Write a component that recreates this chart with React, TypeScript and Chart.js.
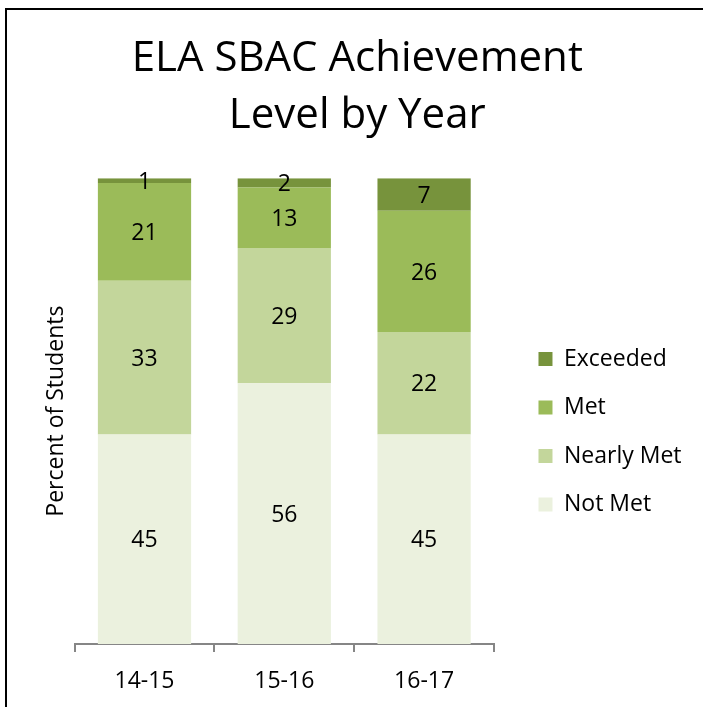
import React, { useEffect, useRef } from 'react';
import { Chart, registerables } from 'chart.js';

Chart.register(...registerables);

const categories = ['14-15', '15-16', '16-17'];
const notMet = [45, 56, 45];
const nearlyMet = [33, 29, 22];
const met = [21, 13, 26];
const exceeded = [1, 2, 7];
const seriesNames = ['Not Met', 'Nearly Met', 'Met', 'Exceeded'];
const seriesColors = ['#EBF1DE', '#C3D69B', '#9BBB59', '#77933C'];
const titleLines = ['ELA SBAC Achievement', 'Level by Year'];
const yTitle = 'Percent of Students';
const yMin = 0;
const yMax = 100;

const FONT = '"Open Sans", "Noto Sans", sans-serif';
const LABEL_SIZE = 23;

const segmentLabels = {
  id: 'segmentLabels',
  afterDatasetsDraw(chart: any) {
    const ctx = chart.ctx;
    ctx.save();
    ctx.font = LABEL_SIZE + 'px ' + FONT;
    ctx.fillStyle = '#000';
    ctx.textAlign = 'center';
    ctx.textBaseline = 'alphabetic';
    chart.data.datasets.forEach((ds: any, i: number) => {
      const meta = chart.getDatasetMeta(i);
      meta.data.forEach((bar: any, j: number) => {
        const p = bar.getProps(['x', 'y', 'base'], true);
        const mid = (p.y + p.base) / 2;
        ctx.fillText(String(ds.data[j]), p.x, mid + LABEL_SIZE * 0.357);
      });
    });
    ctx.restore();
  },
};

export default function App() {
  const ref = useRef<HTMLCanvasElement | null>(null);

  useEffect(() => {
    document.body.style.margin = '0';
    let chart: Chart | null = null;
    let cancelled = false;
    const build = () => {
      if (cancelled || !ref.current) return;
      const seriesData = [notMet, nearlyMet, met, exceeded];
      chart = new Chart(ref.current, {
        type: 'bar',
        data: {
          labels: categories,
          datasets: seriesNames.map((name, i) => ({
            label: name,
            data: seriesData[i],
            backgroundColor: seriesColors[i],
            borderWidth: 0,
            barPercentage: 0.667,
            categoryPercentage: 1,
          })),
        },
        options: {
          responsive: false,
          animation: false,
          devicePixelRatio: 1,
          layout: { padding: { left: 23, right: 11.5, top: 0, bottom: 0 } },
          plugins: {
            title: {
              display: true,
              text: titleLines,
              color: '#000',
              font: { family: FONT, size: 42, weight: 'normal', lineHeight: 1.36 },
              padding: { top: 30, bottom: 34 },
            },
            legend: {
              position: 'right',
              fullSize: false,
              align: 'center',
              reverse: true,
              maxWidth: 400,
              title: {
                display: true,
                text: '',
                padding: { top: 29.5, bottom: 0 },
                font: { size: 10, lineHeight: 1.2 },
              },
              labels: {
                boxWidth: 14,
                boxHeight: 14,
                padding: 25.5,
                color: '#000',
                font: { family: FONT, size: 23 },
              },
            },
            tooltip: { enabled: false },
          },
          scales: {
            x: {
              stacked: true,
              grid: {
                display: true,
                drawOnChartArea: false,
                drawTicks: true,
                tickLength: 8,
                color: '#868686',
                lineWidth: 2,
              },
              border: { display: true, color: '#868686', width: 2 },
              ticks: { color: '#000', font: { family: FONT, size: 23 }, padding: 16 },
              afterFit: (s: any) => {
                s.height = 63;
              },
            },
            y: {
              stacked: true,
              min: yMin,
              max: yMax,
              grid: { display: false, drawTicks: false },
              border: { display: false },
              ticks: { display: false },
              title: {
                display: true,
                text: yTitle,
                color: '#000',
                font: { family: FONT, size: 23 },
                padding: { top: 20, bottom: 4 },
              },
            },
            y2: {
              type: 'linear',
              position: 'right',
              display: true,
              grid: { display: false, drawTicks: false },
              border: { display: false },
              ticks: { display: false },
              afterFit: (s: any) => {
                s.width = 19;
              },
            },
          },
        } as any,
        plugins: [segmentLabels],
      });
    };
    const fontsApi = (document as any).fonts;
    if (fontsApi && fontsApi.load) {
      Promise.all([
        fontsApi.load('23px "Open Sans"'),
        fontsApi.load('42px "Open Sans"'),
      ]).then(build, build);
    } else {
      build();
    }
    return () => {
      cancelled = true;
      if (chart) chart.destroy();
    };
  }, []);

  return (
    <div style={{ position: 'relative', width: 703, height: 707, overflow: 'hidden', background: '#fff' }}>
      <div
        style={{
          position: 'absolute',
          left: 5,
          top: 8,
          width: 800,
          height: 800,
          borderLeft: '2px solid #000',
          borderTop: '2px solid #000',
          boxSizing: 'border-box',
        }}
      />
      <canvas
        ref={ref}
        width={703}
        height={707}
        style={{ position: 'absolute', left: 0, top: 0, width: 703, height: 707 }}
      />
    </div>
  );
}
